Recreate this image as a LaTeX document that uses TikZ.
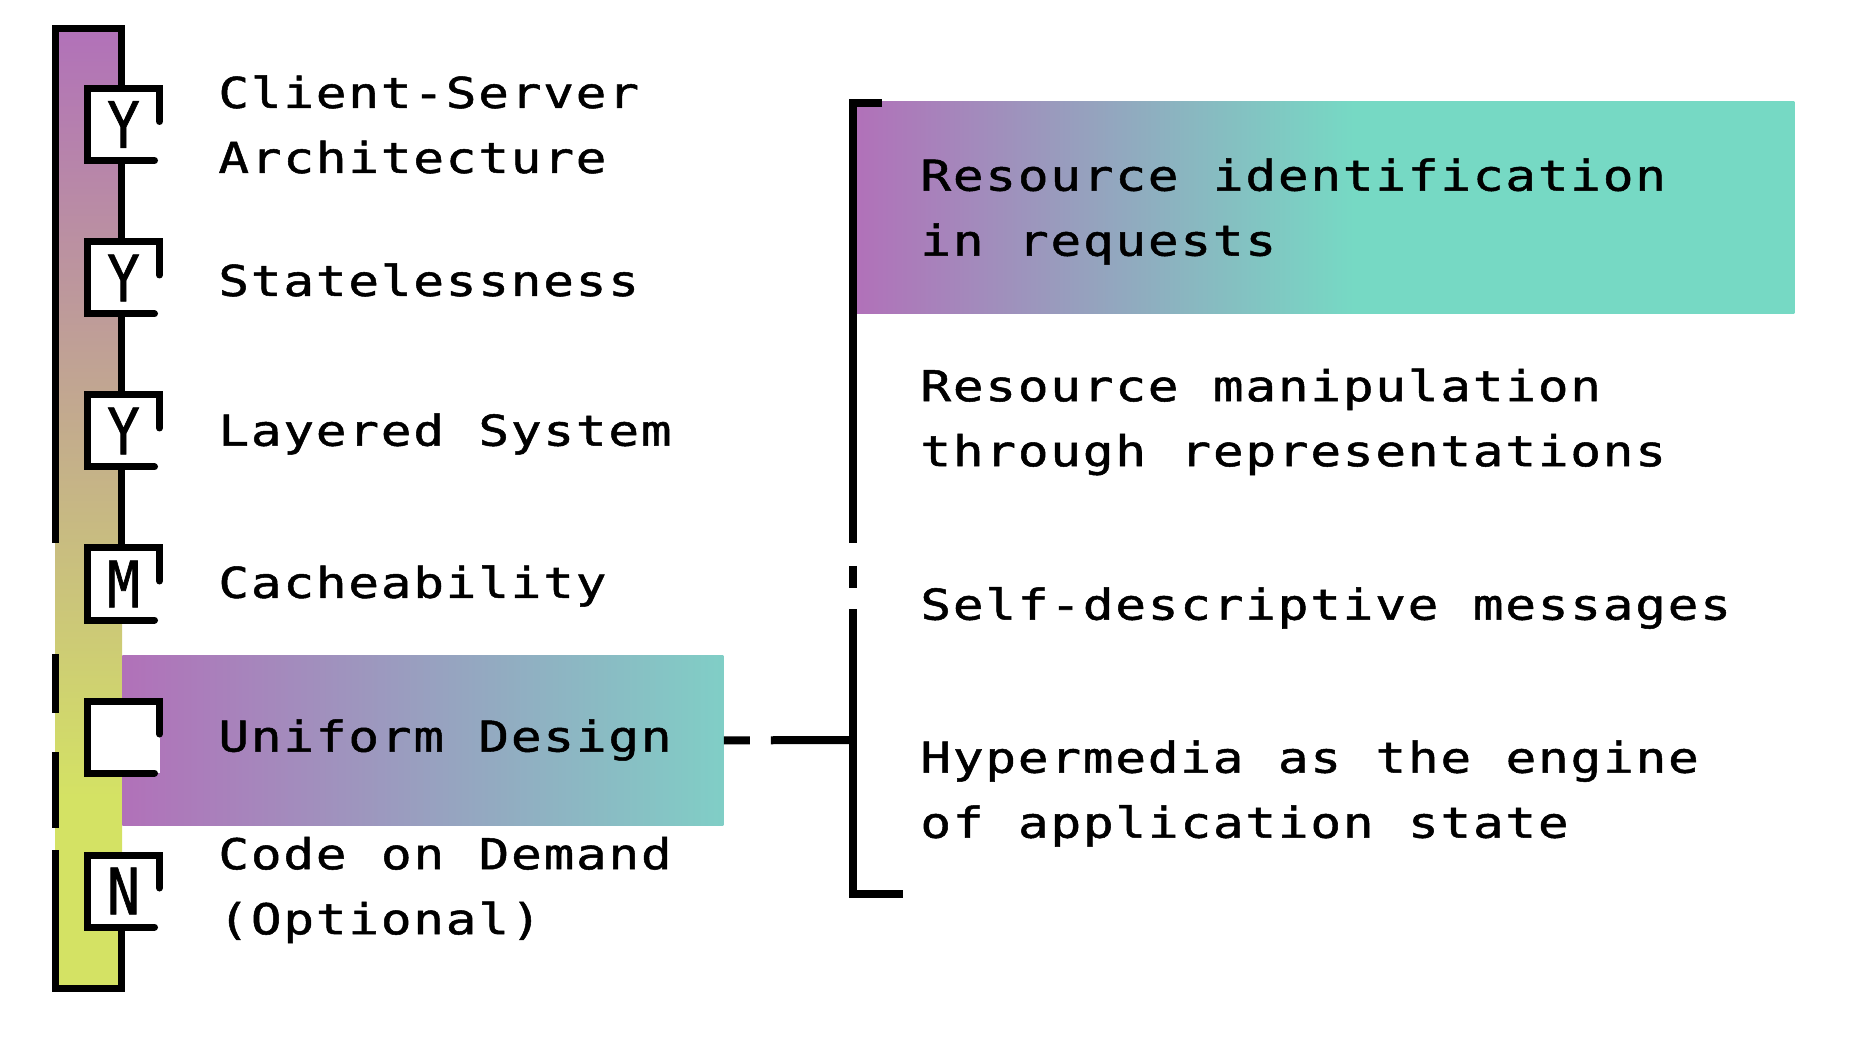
\documentclass[tikz,border=0pt]{standalone}
\usepackage{fontspec}
\usetikzlibrary{positioning,calc}
\newfontfamily\labelfont[FakeStretch=1.2,FakeBold=1.2,LetterSpace=4.2,WordSpace=1.06]{DejaVu Sans Mono}
\newfontfamily\markfont[FakeStretch=0.85,FakeBold=1]{DejaVu Sans Mono}
\definecolor{restviolet}{HTML}{B171B9}
\definecolor{restteal}{HTML}{76D9C4}
\definecolor{restlime}{HTML}{D4E264}
\definecolor{udteal}{HTML}{80CEC6}
\pgfdeclareverticalshading{barshade}{100bp}{color(0bp)=(restlime); color(35bp)=(restlime); color(75bp)=(restviolet); color(100bp)=(restviolet)}
\pgfdeclarehorizontalshading{identshade}{100bp}{color(0bp)=(restviolet); color(25bp)=(restviolet); color(51.5bp)=(restteal); color(100bp)=(restteal)}
\tikzset{
  frame/.style={line width=3.5pt},
  tick/.style={line width=3.5pt, line cap=round, line join=miter},
  checkbox/.style={fill=white, minimum size=36pt, inner sep=0pt, outer sep=0pt,
    font=\markfont\fontsize{32pt}{32pt}\selectfont},
  itemtext/.style={anchor=west, inner sep=0pt, align=left,
    font=\labelfont\fontsize{21.25pt}{32.5pt}\selectfont},
  udbox/.style={anchor=north west, inner sep=0pt, minimum width=300.5pt, minimum height=85pt,
    left color=restviolet, right color=udteal},
  identbox/.style={anchor=north west, inner sep=0pt, minimum width=469pt, minimum height=106pt,
    shading=identshade},
  bracket/.style={line width=4pt},
  link/.style={line width=4pt, dash pattern=on 13pt off 10.5pt on 100pt}
}
\begin{document}
\begin{tikzpicture}[x=0.5pt, y=-0.5pt]
    \useasboundingbox (0,0) rectangle (1850,1052);

    % constraint bar
    \shade[shading=barshade] (55.2,28.5) rectangle (122,988.5);
    \draw[frame] (55.2,543) -- (55.2,28.5) -- (121.5,28.5) -- (121.5,600);
    \draw[frame] (55.2,654) -- (55.2,713) (55.2,752) -- (55.2,828);
    \draw[frame] (55.2,850) -- (55.2,988.5) -- (121.5,988.5) -- (121.5,870);

    \node[udbox] (udband) at (122,655) {};
    \node[identbox] (ident) at (856,101) {};

    % check boxes
    \node[checkbox] (cs) at (123.5,124.5) {Y};
    \node[checkbox] (st) at (123.5,278) {Y};
    \node[checkbox] (ls) at (123.5,431) {Y};
    \node[checkbox] (ca) at (123.5,584) {M};
    \node[checkbox] (ud) at (123.5,737) {};
    \node[checkbox] (cd) at (123.5,891) {N};
    \foreach \b in {cs,st,ls,ca,ud,cd}
        \draw[tick] ($(\b.south east)+(-5,0)$) -- (\b.south west) -- (\b.north west)
            -- (\b.north east) -- ($(\b.east)+(0,-3)$);

    % constraints
    \node[itemtext] (t-cs) at (218,124.5) {Client-Server\\Architecture};
    \node[itemtext] (t-st) at (218,280) {Statelessness};
    \node[itemtext] (t-ls) at (218,434) {Layered System};
    \node[itemtext] (t-ca) at (218,586) {Cacheability};
    \node[itemtext] (t-ud) at (218,740) {Uniform Design};
    \node[itemtext] (t-cd) at (218,890) {Code on Demand\\(Optional)};

    % uniform interface
    \coordinate (brk) at (853,740);
    \draw[link] (udband.east) -- (brk);
    \draw[bracket] (882,103.5) -- (853,103.5) -- (853,543)
        (853,566) -- (853,588)
        (853,609) -- (853,894) -- (903,894);

    \node[itemtext] (t-ri) at (920,211.5) {Resource identification\\in requests};
    \node[itemtext] (t-rm) at (920,422) {Resource manipulation\\through representations};
    \node[itemtext] (t-sd) at (920,608) {Self-descriptive messages};
    \node[itemtext] (t-hm) at (920,793.5) {Hypermedia as the engine\\of application state};
\end{tikzpicture}
\end{document}
